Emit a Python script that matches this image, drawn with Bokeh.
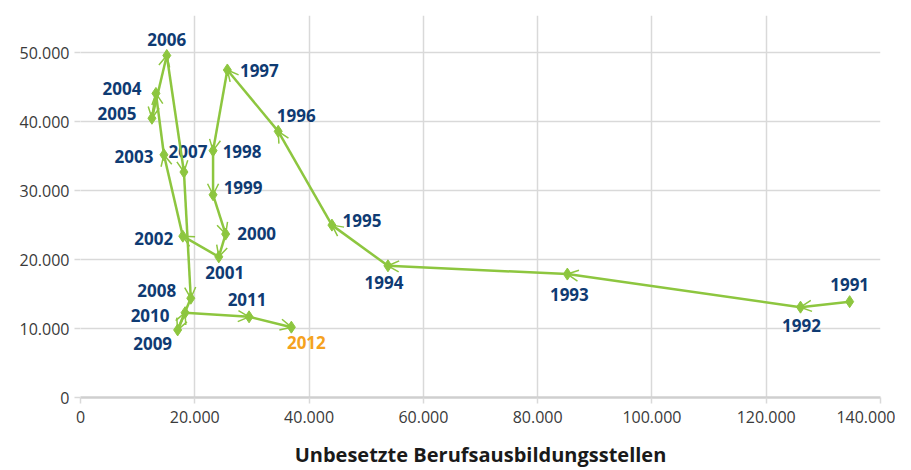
from bokeh.plotting import figure
from bokeh.models import ColumnDataSource, Arrow, OpenHead, FixedTicker, CustomJSTickFormatter, Range1d
from bokeh.core.properties import value
from bokeh.embed import file_html
from bokeh.resources import INLINE

years = [str(y) for y in range(1991, 2013)]
unbesetzt = [134600, 126000, 85200, 53800, 44000, 34600, 25700, 23200, 23200, 25400, 24200,
             17900, 14600, 13200, 12500, 15100, 18100, 19300, 17000, 18300, 29500, 36900]
unversorgt = [13900, 13100, 17900, 19100, 25000, 38600, 47500, 35800, 29400, 23700, 20400,
              23400, 35200, 44100, 40500, 49600, 32700, 14400, 9800, 12300, 11700, 10200]
x_ticks = [0, 20000, 40000, 60000, 80000, 100000, 120000, 140000]
y_ticks = [0, 10000, 20000, 30000, 40000, 50000]

# label placement (screen px, relative to point)
label_dx = [0, 1, 2, -4, 30, 18, 32, 29, 30, 31, 6, -29, -30, -34, -35, 0, 4, -34, -25, -35, -2, 15]
label_dy = [-17, 18, 20, 17, -5, -16, 1, 1, -7, -1, 16, 2, 2, -5, -5, -16, -21, -8, 14, 3, -17, 15]

GREEN = "#8dc63f"
BLUE = "#0f3b73"
ORANGE = "#f5a21e"
GRID = "#d9d9d9"

p = figure(width=895, height=470, output_backend="svg", toolbar_location=None,
           x_range=Range1d(0, 140000), y_range=Range1d(0, 55400),
           min_border_left=80, min_border_right=15, min_border_top=15, min_border_bottom=73)
p.outline_line_color = None
p.background_fill_color = "white"

p.xgrid.grid_line_color = GRID
p.ygrid.grid_line_color = GRID
p.xgrid.grid_line_width = 1.5
p.ygrid.grid_line_width = 1.5

fmt = CustomJSTickFormatter(code="return Math.round(tick).toString().replace(/\\B(?=(\\d{3})+(?!\\d))/g, '.');")
for ax, ticks in ((p.xaxis[0], x_ticks), (p.yaxis[0], y_ticks)):
    ax.ticker = FixedTicker(ticks=ticks)
    ax.formatter = fmt
    ax.minor_tick_line_color = None
    ax.major_tick_line_color = GRID
    ax.major_tick_line_width = 1.5
    ax.major_tick_in = 0
    ax.major_tick_out = 6
    ax.major_label_text_font = "Open Sans"
    ax.major_label_text_font_size = "16px"
    ax.major_label_text_color = "#3a3a3a"
p.xaxis.axis_line_color = "#cfcfcf"
p.xaxis.axis_line_width = 2.5
p.yaxis.axis_line_color = None
p.xaxis.major_label_standoff = 7
p.yaxis.major_label_standoff = 5

p.xaxis.axis_label = "Unbesetzte Berufsausbildungsstellen"
p.xaxis.axis_label_text_font = "Open Sans"
p.xaxis.axis_label_text_font_style = "bold"
p.xaxis.axis_label_text_font_size = "20px"
p.xaxis.axis_label_text_color = "#1a1a1a"
p.xaxis.axis_label_standoff = 15

seg = ColumnDataSource(dict(x0=unbesetzt[:-1], y0=unversorgt[:-1], x1=unbesetzt[1:], y1=unversorgt[1:]))
p.add_layout(Arrow(source=seg, x_start="x0", y_start="y0", x_end="x1", y_end="y1",
                   line_color=GREEN, line_width=2.5,
                   end=OpenHead(size=11, line_color=GREEN, line_width=1.5)))

pts = ColumnDataSource(dict(x=unbesetzt, y=unversorgt, year=years, dx=label_dx, dy=label_dy,
                            color=[BLUE] * (len(years) - 1) + [ORANGE]))
p.scatter("x", "y", source=pts, marker="diamond", size=12, fill_color=GREEN, line_color=GREEN)
p.text("x", "y", text="year", source=pts, x_offset="dx", y_offset="dy",
       text_align="center", text_baseline="middle", text_color="color",
       text_font=value("Open Sans"), text_font_style="bold", text_font_size="17px")

open("out.html", "w").write(file_html(p, INLINE))
